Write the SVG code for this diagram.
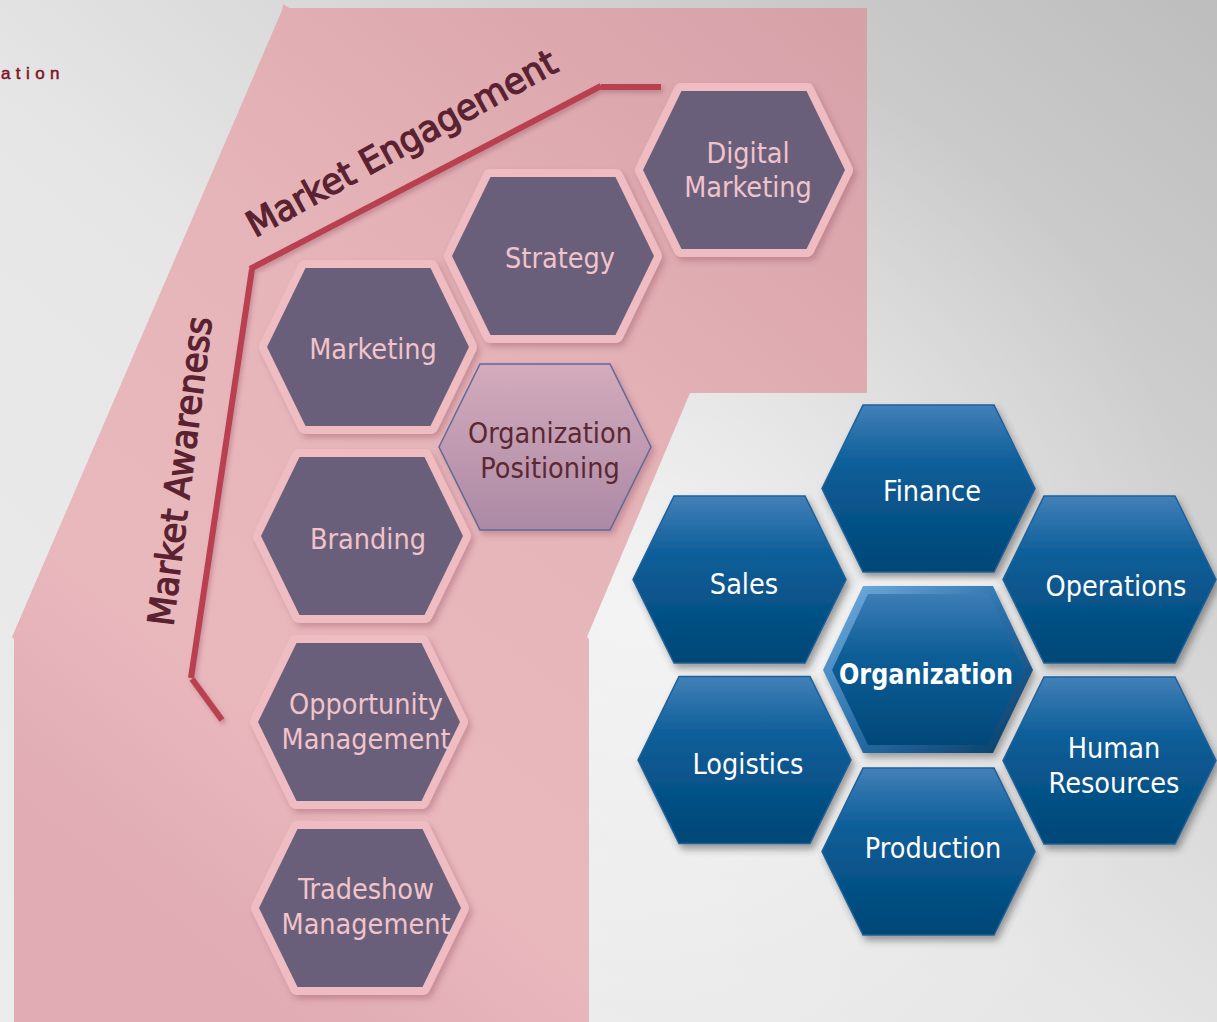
<svg xmlns="http://www.w3.org/2000/svg" xmlns:xlink="http://www.w3.org/1999/xlink" width="1217" height="1022" viewBox="0 0 1217 1022">
<defs>
  <linearGradient id="bgLin" x1="1" y1="0" x2="0" y2="1">
    <stop offset="0" stop-color="#bdbdbd"/>
    <stop offset="0.55" stop-color="#e6e6e6"/>
    <stop offset="1" stop-color="#ececec"/>
  </linearGradient>
  <radialGradient id="bgRad" cx="640" cy="600" r="560" gradientUnits="userSpaceOnUse">
    <stop offset="0" stop-color="#ffffff" stop-opacity="0.55"/>
    <stop offset="1" stop-color="#ffffff" stop-opacity="0"/>
  </radialGradient>
  <linearGradient id="pinkBg" x1="867" y1="0" x2="150" y2="900" gradientUnits="userSpaceOnUse">
    <stop offset="0" stop-color="#d6a0a7"/>
    <stop offset="0.5" stop-color="#e6b5ba"/>
    <stop offset="0.8" stop-color="#e9b8bd"/>
    <stop offset="1" stop-color="#e1acb4"/>
  </linearGradient>
  <linearGradient id="blueG" x1="0" y1="0" x2="0" y2="1">
    <stop offset="0" stop-color="#4380b8"/>
    <stop offset="0.35" stop-color="#0c5e99"/>
    <stop offset="1" stop-color="#004776"/>
  </linearGradient>
  <linearGradient id="bevelG" x1="0" y1="0" x2="1" y2="1">
    <stop offset="0" stop-color="#78b2e2"/>
    <stop offset="0.5" stop-color="#2a70aa"/>
    <stop offset="1" stop-color="#063a62"/>
  </linearGradient>
  <linearGradient id="orgInner" x1="0" y1="0" x2="0" y2="1">
    <stop offset="0" stop-color="#3e7db6"/>
    <stop offset="0.4" stop-color="#0d5e98"/>
    <stop offset="1" stop-color="#014878"/>
  </linearGradient>
  <linearGradient id="posG" x1="0" y1="0" x2="0" y2="1">
    <stop offset="0" stop-color="#d3abbc"/>
    <stop offset="1" stop-color="#ac89a5"/>
  </linearGradient>
  <filter id="pShadow" x="-20%" y="-20%" width="140%" height="140%">
    <feDropShadow dx="3" dy="4" stdDeviation="3" flood-color="#8a4452" flood-opacity="0.35"/>
  </filter>
  <filter id="bShadow" x="-20%" y="-20%" width="140%" height="140%">
    <feDropShadow dx="3" dy="5" stdDeviation="3.5" flood-color="#333333" flood-opacity="0.45"/>
  </filter>
  <filter id="lShadow" x="-10%" y="-10%" width="120%" height="120%">
    <feDropShadow dx="2" dy="3" stdDeviation="2" flood-color="#7a3a45" flood-opacity="0.3"/>
  </filter>
  <filter id="halo" x="-20%" y="-20%" width="140%" height="140%">
    <feGaussianBlur stdDeviation="3"/>
  </filter>
  <polygon id="hexP" points="-101,0 -62.5,-79 62.5,-79 101,0 62.5,79 -62.5,79"/>
  <polygon id="hexB" points="-106.5,0 -65.5,-83.5 65.5,-83.5 106.5,0 65.5,83.5 -65.5,83.5"/>
  <style>
    .phex { fill:#6b5f7a; stroke:#efbcc2; stroke-width:16; stroke-linejoin:round; paint-order:stroke; filter:url(#pShadow); }
    .bhex { fill:url(#blueG); stroke:#1d619a; stroke-width:1.5; filter:url(#bShadow); }
    .lbl { font-family:'DejaVu Sans Condensed','DejaVu Sans',sans-serif; font-stretch:condensed; font-size:28.5px; text-anchor:middle; }
    .pt { fill:#f1c3ca; }
    .bt { fill:#ffffff; }
    .ot { fill:#5b2832; }
    .axis { font-family:'DejaVu Sans Condensed','DejaVu Sans',sans-serif; font-stretch:condensed; font-size:36px; fill:#5a2230; stroke:#5a2230; stroke-width:1.2; }
    .guide { stroke:#b8404f; stroke-width:6; fill:none; stroke-linecap:butt; }
  </style>
</defs>

<!-- background -->
<rect width="1217" height="1022" fill="url(#bgLin)"/>
<rect width="1217" height="1022" fill="url(#bgRad)"/>

<text x="1" y="79" font-family="'Liberation Sans',sans-serif" font-size="17" letter-spacing="5.4" fill="#7f1129" stroke="#7f1129" stroke-width="0.5">ation</text>

<!-- pink region -->
<polygon id="pink-region" fill="url(#pinkBg)" points="283,8 867,8 867,393 690,393 587,637 589,639 589,1022 14,1022 14,639 12,637"/>
<polygon fill="#e0aeb3" points="283,4 291,9 282,12"/>

<!-- guide lines -->
<g id="connectors" filter="url(#lShadow)">
  <line class="guide" x1="222" y1="720" x2="192" y2="679"/>
  <line class="guide" x1="191" y1="678" x2="252" y2="269"/>
  <line class="guide" x1="250" y1="269" x2="601" y2="86"/>
  <line class="guide" x1="601" y1="87" x2="661" y2="87" stroke-width="7"/>
</g>

<text class="axis" transform="translate(255,238) rotate(-28.8)" textLength="348" lengthAdjust="spacingAndGlyphs">Market Engagement</text>
<text class="axis" transform="translate(173,627) rotate(-82.8)" textLength="311" lengthAdjust="spacingAndGlyphs">Market Awareness</text>

<!-- pink hex nodes -->
<g id="node-digital-marketing">
  <use href="#hexP" class="phex" x="744" y="170"/>
  <text class="lbl pt" x="748" y="163">Digital</text>
  <text class="lbl pt" x="748" y="197">Marketing</text>
</g>
<g id="node-strategy">
  <use href="#hexP" class="phex" x="553" y="256"/>
  <text class="lbl pt" x="560" y="268">Strategy</text>
</g>
<g id="node-marketing">
  <use href="#hexP" class="phex" x="368" y="347"/>
  <text class="lbl pt" x="373" y="359">Marketing</text>
</g>
<g id="node-branding">
  <use href="#hexP" class="phex" x="362" y="536"/>
  <text class="lbl pt" x="368" y="549">Branding</text>
</g>
<g id="node-opportunity-management">
  <use href="#hexP" class="phex" x="359" y="722"/>
  <text class="lbl pt" x="366" y="714">Opportunity</text>
  <text class="lbl pt" x="366" y="749">Management</text>
</g>
<g id="node-tradeshow-management">
  <use href="#hexP" class="phex" x="360" y="908"/>
  <text class="lbl pt" x="366" y="899">Tradeshow</text>
  <text class="lbl pt" x="366" y="934">Management</text>
</g>
<g id="node-organization-positioning">
  <polygon points="439,447 480,364 610,364 651,447 610,530 480,530" fill="url(#posG)" stroke="#5f6a98" stroke-width="1.5" filter="url(#pShadow)"/>
  <text class="lbl ot" x="550" y="443">Organization</text>
  <text class="lbl ot" x="550" y="478">Positioning</text>
</g>

<!-- blue hex nodes -->
<g id="node-finance">
  <use href="#hexB" class="bhex" x="928.5" y="488.5"/>
  <text class="lbl bt" x="932" y="501">Finance</text>
</g>
<g id="node-sales">
  <use href="#hexB" class="bhex" x="739.5" y="579.5"/>
  <text class="lbl bt" x="744" y="594">Sales</text>
</g>
<g id="node-operations">
  <use href="#hexB" class="bhex" x="1109.5" y="579.5"/>
  <text class="lbl bt" x="1116" y="596">Operations</text>
</g>
<g id="node-logistics">
  <use href="#hexB" class="bhex" x="744.5" y="760"/>
  <text class="lbl bt" x="748" y="774">Logistics</text>
</g>
<g id="node-human-resources">
  <use href="#hexB" class="bhex" x="1109.5" y="760.5"/>
  <text class="lbl bt" x="1114" y="758">Human</text>
  <text class="lbl bt" x="1114" y="793">Resources</text>
</g>
<g id="node-production">
  <use href="#hexB" class="bhex" x="928.5" y="851.5"/>
  <text class="lbl bt" x="933" y="858">Production</text>
</g>
<g id="node-organization">
  <polygon points="823,670 863,586 993,586 1033,670 993,753 863,753" fill="none" stroke="#f2f2f2" stroke-width="12" stroke-linejoin="round" filter="url(#halo)" opacity="0.9"/>
  <polygon points="823,670 863,586 993,586 1033,670 993,753 863,753" fill="url(#bevelG)" filter="url(#bShadow)"/>
  <polygon points="832,670 868,594 988,594 1024,670 988,745 868,745" fill="url(#orgInner)"/>
  <text class="lbl bt" x="926" y="684" font-weight="bold" font-size="27" textLength="174" lengthAdjust="spacingAndGlyphs">Organization</text>
</g>
</svg>
